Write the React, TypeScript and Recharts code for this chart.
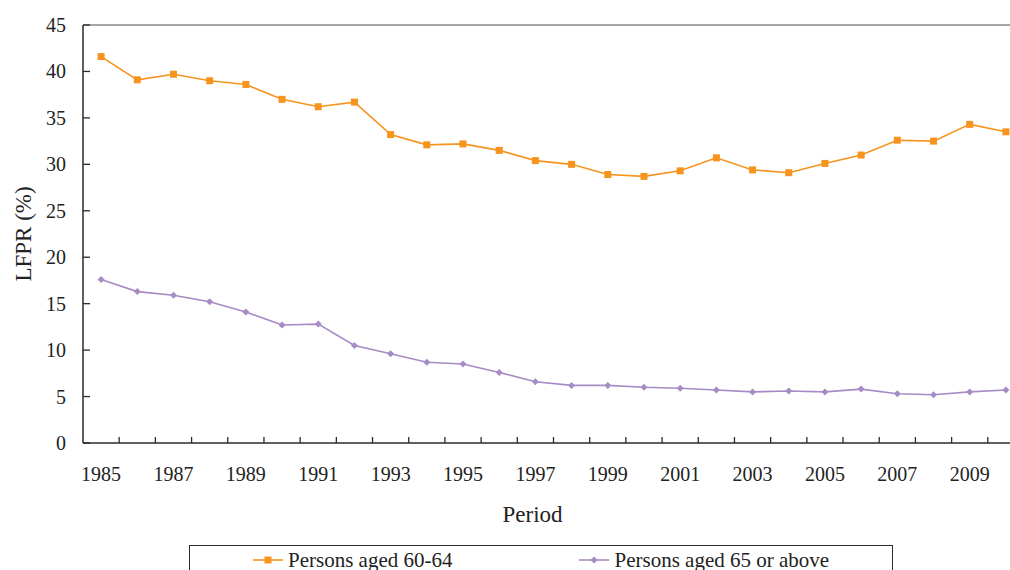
import React from "react";
import { LineChart, Line, XAxis, YAxis, ReferenceLine, Legend } from "recharts";

// LFPR of older persons, 1985-2010
const years = [
  1985, 1986, 1987, 1988, 1989, 1990, 1991, 1992, 1993, 1994, 1995, 1996, 1997,
  1998, 1999, 2000, 2001, 2002, 2003, 2004, 2005, 2006, 2007, 2008, 2009, 2010,
];
const aged6064 = [
  41.6, 39.1, 39.7, 39.0, 38.6, 37.0, 36.2, 36.7, 33.2, 32.1, 32.2, 31.5, 30.4,
  30.0, 28.9, 28.7, 29.3, 30.7, 29.4, 29.1, 30.1, 31.0, 32.6, 32.5, 34.3, 33.5,
];
const aged65plus = [
  17.6, 16.3, 15.9, 15.2, 14.1, 12.7, 12.8, 10.5, 9.6, 8.7, 8.5, 7.6, 6.6,
  6.2, 6.2, 6.0, 5.9, 5.7, 5.5, 5.6, 5.5, 5.8, 5.3, 5.2, 5.5, 5.7,
];
const labelYears = [1985, 1987, 1989, 1991, 1993, 1995, 1997, 1999, 2001, 2003, 2005, 2007, 2009];
const yTicks = [0, 5, 10, 15, 20, 25, 30, 35, 40, 45];

const data = years.map((year, i) => ({ year, a: aged6064[i], b: aged65plus[i] }));
// tick marks sit between the years
const boundaries = years.slice(1).map((y) => y - 0.5);
const xTicks = [...labelYears, ...boundaries].sort((p, q) => p - q);

const FONT = '"Liberation Serif", "Times New Roman", serif';
const ORANGE = "#F7941D";
const PURPLE = "#A68BC5";
const AXIS = "#2b2b2b";

const XTick = ({ x, y, payload }: any) => {
  const v = payload.value as number;
  if (Number.isInteger(v)) {
    return (
      <text x={x} y={y + 38} textAnchor="middle" fontSize={20} fontFamily={FONT} fill="#222">
        {v}
      </text>
    );
  }
  return <line x1={x} y1={y} x2={x} y2={y - 6} stroke={AXIS} strokeWidth={1.3} />;
};

const YTick = ({ x, y, payload }: any) => (
  <g>
    <line x1={x} y1={y} x2={x + 7} y2={y} stroke={AXIS} strokeWidth={1.3} />
    <text x={x - 17} y={y + 7} textAnchor="end" fontSize={20} fontFamily={FONT} fill="#222">
      {payload.value}
    </text>
  </g>
);

const SquareDot = ({ cx, cy }: any) => <rect x={cx - 3.5} y={cy - 3.5} width={7} height={7} fill={ORANGE} />;

const DiamondDot = ({ cx, cy }: any) => (
  <polygon points={`${cx},${cy - 3.5} ${cx + 3.5},${cy} ${cx},${cy + 3.5} ${cx - 3.5},${cy}`} fill={PURPLE} />
);

const LegendBox = () => (
  <div
    style={{
      boxSizing: "border-box",
      width: "100%",
      height: "100%",
      border: `1px solid ${AXIS}`,
      display: "flex",
      gap: 127,
      paddingLeft: 63,
      paddingTop: 2,
      fontFamily: FONT,
      fontSize: 21,
      color: "#222",
      lineHeight: "24px",
    }}
  >
    {[
      { name: "Persons aged 60-64", color: ORANGE, square: true },
      { name: "Persons aged 65 or above", color: PURPLE, square: false },
    ].map((it) => (
      <div key={it.name} style={{ display: "flex", alignItems: "center", height: 24 }}>
        <svg width={30} height={12}>
          <line x1={0} y1={6} x2={30} y2={6} stroke={it.color} strokeWidth={1.6} />
          {it.square ? (
            <rect x={11.5} y={2.5} width={7} height={7} fill={it.color} />
          ) : (
            <polygon points="15,2.5 18.5,6 15,9.5 11.5,6" fill={it.color} />
          )}
        </svg>
        <span style={{ marginLeft: 5, whiteSpace: "nowrap" }}>{it.name}</span>
      </div>
    ))}
  </div>
);

export default function App() {
  return (
    <div
      style={{
        position: "absolute",
        left: 0,
        top: 0,
        width: 1010,
        height: 570,
        overflow: "hidden",
        background: "#fff",
        fontFamily: FONT,
      }}
    >
      <LineChart width={1030} height={570} data={data} margin={{ top: 25, right: 6, bottom: 37, left: 0 }}>
        <XAxis
          dataKey="year"
          type="number"
          domain={[1984.5, 2010.5]}
          ticks={xTicks}
          interval={0}
          tick={<XTick />}
          tickLine={false}
          tickSize={0}
          tickMargin={0}
          height={90}
          axisLine={{ stroke: AXIS, strokeWidth: 1.5 }}
          label={{
            value: "Period",
            position: "insideBottom",
            offset: 11,
            dx: -21,
            fontSize: 23,
            fill: "#222",
            style: { fontFamily: FONT },
          }}
        />
        <YAxis
          domain={[0, 45]}
          ticks={yTicks}
          interval={0}
          width={83}
          tick={<YTick />}
          tickLine={false}
          tickSize={0}
          tickMargin={0}
          axisLine={{ stroke: AXIS, strokeWidth: 1.5 }}
          label={{
            value: "LFPR (%)",
            angle: -90,
            position: "insideLeft",
            offset: 23,
            fontSize: 23,
            fill: "#222",
            style: { textAnchor: "middle", fontFamily: FONT },
          }}
        />
        <ReferenceLine y={45} stroke="#8a8a8a" strokeWidth={1.5} />
        <Line
          dataKey="a"
          name="Persons aged 60-64"
          stroke={ORANGE}
          strokeWidth={1.6}
          dot={<SquareDot />}
          activeDot={false}
          isAnimationActive={false}
        />
        <Line
          dataKey="b"
          name="Persons aged 65 or above"
          stroke={PURPLE}
          strokeWidth={1.6}
          dot={<DiamondDot />}
          activeDot={false}
          isAnimationActive={false}
        />
        <Legend
          layout="vertical"
          align="center"
          verticalAlign="middle"
          content={<LegendBox />}
          wrapperStyle={{ left: 189, top: 545, width: 704, height: 40 }}
        />
      </LineChart>
    </div>
  );
}
